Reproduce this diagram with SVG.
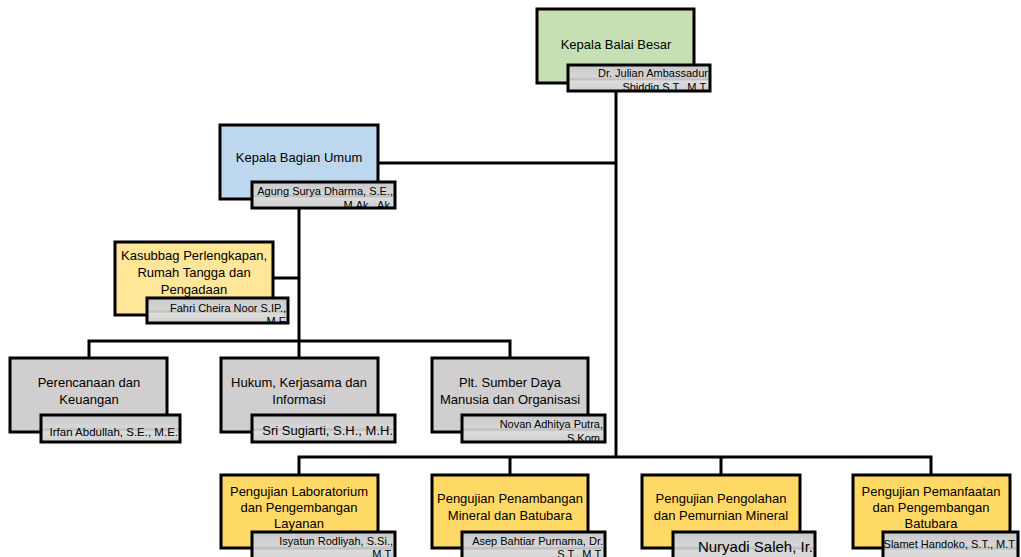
<svg xmlns="http://www.w3.org/2000/svg" width="1021" height="557" viewBox="0 0 1021 557">
  <defs>
    <linearGradient id="nameFill" x1="0" y1="0" x2="0" y2="1">
      <stop offset="0" stop-color="#c9c9c9"/>
      <stop offset="0.45" stop-color="#d6d6d6"/>
      <stop offset="0.55" stop-color="#bdbdbd"/>
      <stop offset="0.62" stop-color="#dcdcdc"/>
      <stop offset="1" stop-color="#cfcfcf"/>
    </linearGradient>
    <clipPath id="c-top"><rect x="568" y="65" width="142" height="26"/></clipPath>
    <clipPath id="c-umum"><rect x="252" y="182" width="143" height="26"/></clipPath>
    <clipPath id="c-kasub"><rect x="147" y="298" width="141" height="25"/></clipPath>
    <clipPath id="c-sdm"><rect x="462" y="415" width="143" height="27"/></clipPath>
    <clipPath id="c-lab"><rect x="252" y="532" width="143" height="26"/></clipPath>
    <clipPath id="c-tam"><rect x="462" y="532" width="143" height="26"/></clipPath>
  </defs>
  <style>
    .box { stroke: #000; stroke-width: 3; }
    .green { fill: #c6e0b4; }
    .blue { fill: #bdd7ee; }
    .lyellow { fill: #ffe699; }
    .grey { fill: #d0cece; }
    .yellow { fill: #ffd966; }
    .name { fill: url(#nameFill); stroke: #000; stroke-width: 3; }
    .t { font-family: "Liberation Sans", Arial, sans-serif; font-size: 13px; fill: #000; text-anchor: middle; }
    .n { font-family: "Liberation Sans", Arial, sans-serif; font-size: 11px; fill: #000; text-anchor: end; }
    .link { fill: none; stroke: #000; stroke-width: 3; }
  </style>

  <!-- connectors -->
  <g id="connectors">
    <path class="link" d="M616 91 V457"/>
    <path class="link" d="M378 163 H616"/>
    <path class="link" d="M299 208 V341"/>
    <path class="link" d="M273 278 H299"/>
    <path class="link" d="M89 358 V341 H510 V358"/>
    <path class="link" d="M299 341 V358"/>
    <path class="link" d="M299 475 V457 H931 V475"/>
    <path class="link" d="M510 457 V475"/>
    <path class="link" d="M721 457 V475"/>
  </g>

  <g id="kepala-balai">
    <rect class="box green" x="537" y="9" width="157" height="74"/>
    <text class="t" x="616" y="49">Kepala Balai Besar</text>
    <rect class="name" x="568" y="65" width="142" height="26"/>
    <g clip-path="url(#c-top)">
      <text class="n" x="708" y="77">Dr. Julian Ambassadur</text>
      <text class="n" x="708" y="91">Shiddiq S.T., M.T.</text>
    </g>
  </g>

  <g id="kepala-umum">
    <rect class="box blue" x="220" y="125" width="158" height="74"/>
    <text class="t" x="299" y="162">Kepala Bagian Umum</text>
    <rect class="name" x="252" y="182" width="143" height="26"/>
    <g clip-path="url(#c-umum)">
      <text class="n" x="393" y="195">Agung Surya Dharma, S.E.,</text>
      <text class="n" x="393" y="209">M.Ak., Ak.</text>
    </g>
  </g>

  <g id="kasubbag">
    <rect class="box lyellow" x="115" y="242" width="158" height="73"/>
    <text class="t" x="194" y="260">Kasubbag Perlengkapan,</text>
    <text class="t" x="194" y="277">Rumah Tangga dan</text>
    <text class="t" x="194" y="294">Pengadaan</text>
    <rect class="name" x="147" y="298" width="141" height="25"/>
    <g clip-path="url(#c-kasub)">
      <text class="n" x="286" y="312">Fahri Cheira Noor S.IP.,</text>
      <text class="n" x="286" y="325">M.E</text>
    </g>
  </g>

  <g id="perencanaan">
    <rect class="box grey" x="10" y="358" width="157" height="74"/>
    <text class="t" x="89" y="387">Perencanaan dan</text>
    <text class="t" x="89" y="404">Keuangan</text>
    <rect class="name" x="41" y="415" width="139" height="27"/>
    <text class="n" x="178" y="436" style="font-size:11.5px">Irfan Abdullah, S.E., M.E.</text>
  </g>

  <g id="hukum">
    <rect class="box grey" x="221" y="358" width="157" height="74"/>
    <text class="t" x="299" y="387">Hukum, Kerjasama dan</text>
    <text class="t" x="299" y="404">Informasi</text>
    <rect class="name" x="252" y="415" width="143" height="27"/>
    <text class="n" x="393" y="435" style="font-size:13px">Sri Sugiarti, S.H., M.H.</text>
  </g>

  <g id="sdm">
    <rect class="box grey" x="432" y="358" width="156" height="74"/>
    <text class="t" x="510" y="387">Plt. Sumber Daya</text>
    <text class="t" x="510" y="404">Manusia dan Organisasi</text>
    <rect class="name" x="462" y="415" width="143" height="27"/>
    <g clip-path="url(#c-sdm)">
      <text class="n" x="603" y="428">Novan Adhitya Putra,</text>
      <text class="n" x="603" y="442">S.Kom.</text>
    </g>
  </g>

  <g id="laboratorium">
    <rect class="box yellow" x="221" y="475" width="157" height="73"/>
    <text class="t" x="299" y="496">Pengujian Laboratorium</text>
    <text class="t" x="299" y="512">dan Pengembangan</text>
    <text class="t" x="299" y="528">Layanan</text>
    <rect class="name" x="252" y="532" width="143" height="30"/>
    <g clip-path="url(#c-lab)">
      <text class="n" x="393" y="545">Isyatun Rodliyah, S.Si.,</text>
      <text class="n" x="393" y="558">M.T.</text>
    </g>
  </g>

  <g id="penambangan">
    <rect class="box yellow" x="432" y="475" width="156" height="73"/>
    <text class="t" x="510" y="503">Pengujian Penambangan</text>
    <text class="t" x="510" y="520">Mineral dan Batubara</text>
    <rect class="name" x="462" y="532" width="143" height="30"/>
    <g clip-path="url(#c-tam)">
      <text class="n" x="603" y="545">Asep Bahtiar Purnama, Dr.</text>
      <text class="n" x="603" y="558">S.T., M.T.</text>
    </g>
  </g>

  <g id="pengolahan">
    <rect class="box yellow" x="642" y="475" width="158" height="73"/>
    <text class="t" x="721" y="503">Pengujian Pengolahan</text>
    <text class="t" x="721" y="520">dan Pemurnian Mineral</text>
    <rect class="name" x="673" y="532" width="142" height="30"/>
    <text class="n" x="813" y="552" style="font-size:15px">Nuryadi Saleh, Ir.</text>
  </g>

  <g id="pemanfaatan">
    <rect class="box yellow" x="853" y="475" width="157" height="73"/>
    <text class="t" x="931" y="496">Pengujian Pemanfaatan</text>
    <text class="t" x="931" y="512">dan Pengembangan</text>
    <text class="t" x="931" y="528">Batubara</text>
    <rect class="name" x="883" y="532" width="135" height="30"/>
    <text class="n" x="1015" y="548" style="font-size:11px">Slamet Handoko, S.T., M.T</text>
  </g>
</svg>
